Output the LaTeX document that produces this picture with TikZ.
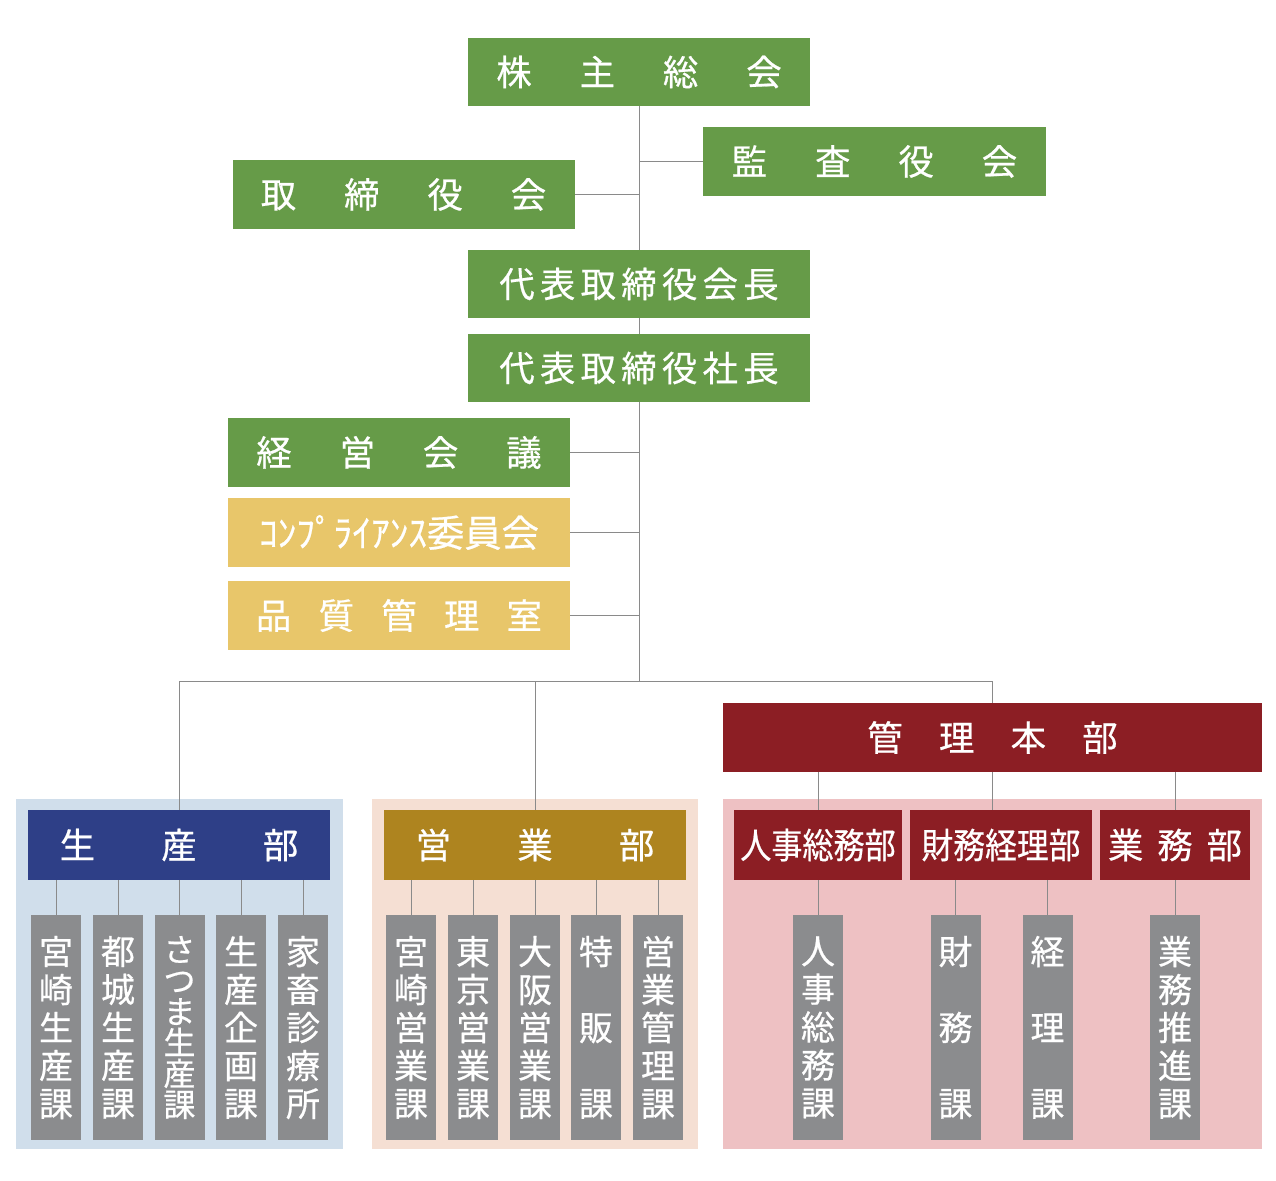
\documentclass[tikz,border=0pt]{standalone}
\usepackage{fontspec}
\newfontfamily\jp{Noto Sans CJK JP}[FakeBold=0.6]
\definecolor{cgreen}{HTML}{669B48}
\definecolor{cyellow}{HTML}{E8C66A}
\definecolor{cblue}{HTML}{2E3F87}
\definecolor{cpblue}{HTML}{D0DEEB}
\definecolor{cgold}{HTML}{AE841F}
\definecolor{cpbeige}{HTML}{F5DFD3}
\definecolor{cred}{HTML}{8C1E24}
\definecolor{cppink}{HTML}{EEC1C3}
\definecolor{cgray}{HTML}{8B8C8E}
\definecolor{cline}{HTML}{8A8A8A}
\begin{document}
\begin{tikzpicture}[x=0.75pt,y=-0.75pt,
  box/.style={inner sep=0pt,outer sep=0pt,text=white,font=\jp\fontsize{26.5}{30}\selectfont,anchor=center},
  topbox/.style={box,fill=cgreen,minimum width=256.5pt,minimum height=51.5pt},
  yelbox/.style={box,fill=cyellow,minimum width=256.5pt,minimum height=51.5pt},
  panel/.style={inner sep=0pt,outer sep=0pt,minimum height=262.5pt},
  dept/.style={box,minimum height=52.5pt},
  col/.style={box,fill=cgray,minimum width=37.5pt,minimum height=168.75pt,align=center,font=\jp\fontsize{25.5}{28.5}\selectfont},
  conn/.style={draw=cline,line width=0.75pt}]
\useasboundingbox (0,0) rectangle (1276,1180);
% panels
\node[panel,fill=cpblue,minimum width=245.25pt] (pA) at (179.5,974) {};
\node[panel,fill=cpbeige,minimum width=244.5pt] (pB) at (535,974) {};
\node[panel,fill=cppink,minimum width=404.25pt] (pC) at (992.5,974) {};
% top boxes
\node[topbox] (kabu) at (639,72) {株\hspace{36pt}主\hspace{36pt}総\hspace{36pt}会};
\node[topbox,minimum width=257.25pt] (kansa) at (874.5,161.5) {監\hspace{36pt}査\hspace{36pt}役\hspace{36pt}会};
\node[topbox] (tori) at (403.5,194.5) {取\hspace{36pt}締\hspace{36pt}役\hspace{36pt}会};
\node[topbox] (kaicho) at (639,284) {代\hspace{4pt}表\hspace{4pt}取\hspace{4pt}締\hspace{4pt}役\hspace{4pt}会\hspace{4pt}長};
\node[topbox] (shacho) at (639,368) {代\hspace{4pt}表\hspace{4pt}取\hspace{4pt}締\hspace{4pt}役\hspace{4pt}社\hspace{4pt}長};
\node[topbox] (keiei) at (399,452.5) {経\hspace{36pt}営\hspace{36pt}会\hspace{36pt}議};
\node[yelbox,font=\jp\fontsize{28}{30}\selectfont] (comp) at (399,532.5) {ｺﾝﾌﾟﾗｲｱﾝｽ委員会};
\node[yelbox] (hin) at (399,615.5) {品\hspace{20.5pt}質\hspace{20.5pt}管\hspace{20.5pt}理\hspace{20.5pt}室};
% departments
\node[dept,fill=cred,minimum width=404.25pt,minimum height=51.75pt] (kanri) at (992.5,737.5) {管\hspace{27.25pt}理\hspace{27.25pt}本\hspace{27.25pt}部};
\node[dept,fill=cblue,minimum width=226.5pt] (seisan) at (179,845) {生\hspace{49.75pt}産\hspace{49.75pt}部};
\node[dept,fill=cgold,minimum width=226.5pt] (eigyo) at (535,845) {営\hspace{49.75pt}業\hspace{49.75pt}部};
\node[dept,fill=cred,minimum width=126pt] (jinji) at (818,845) {\scalebox{0.88}[1]{人事総務部}};
\node[dept,fill=cred,minimum width=136.5pt] (zaimu) at (1001,845) {\scalebox{0.9}[1]{財務経理部}};
\node[dept,fill=cred,minimum width=112.5pt] (gyomu) at (1175,845) {業\hspace{10.5pt}務\hspace{10.5pt}部};
% columns
\node[col] (a1) at (56,1027.5) {宮\\崎\\生\\産\\課};
\node[col] (a2) at (118,1027.5) {都\\城\\生\\産\\課};
\node[col,font=\jp\fontsize{24}{23.25}\selectfont] (a3) at (179.5,1027.5) {さ\\つ\\ま\\生\\産\\課};
\node[col] (a4) at (241,1027.5) {生\\産\\企\\画\\課};
\node[col] (a5) at (303,1027.5) {家\\畜\\診\\療\\所};
\node[col] (b1) at (411,1027.5) {宮\\崎\\営\\業\\課};
\node[col] (b2) at (473,1027.5) {東\\京\\営\\業\\課};
\node[col] (b3) at (535,1027.5) {大\\阪\\営\\業\\課};
\node[col] (b4) at (596,1027.5) {特\\[28.5pt]販\\[28.5pt]課};
\node[col] (b5) at (658,1027.5) {営\\業\\管\\理\\課};
\node[col] (c1) at (818,1027.5) {人\\事\\総\\務\\課};
\node[col] (c2) at (955.5,1027.5) {財\\[28.5pt]務\\[28.5pt]課};
\node[col] (c3) at (1047.5,1027.5) {経\\[28.5pt]理\\[28.5pt]課};
\node[col] (c4) at (1175,1027.5) {業\\務\\推\\進\\課};
% connectors
\coordinate (j) at (639,681);
\draw[conn] (kabu.south) -- (kaicho.north);
\draw[conn] (kaicho.south) -- (shacho.north);
\draw[conn] (shacho.south) -- (j);
\draw[conn] (kansa.west) -- (kansa.west -| kabu.south);
\draw[conn] (tori.east) -- (tori.east -| kabu.south);
\draw[conn] (keiei.east) -- (keiei.east -| j);
\draw[conn] (comp.east) -- (comp.east -| j);
\draw[conn] (hin.east) -- (hin.east -| j);
\draw[conn] (seisan.north |- j) -- (kanri.north |- j);
\draw[conn] (seisan.north |- j) -- (seisan.north);
\draw[conn] (eigyo.north |- j) -- (eigyo.north);
\draw[conn] (kanri.north |- j) -- (kanri.north);
\draw[conn] (kanri.south -| jinji.north) -- (jinji.north);
\draw[conn] (kanri.south) -- (kanri.south |- zaimu.north);
\draw[conn] (kanri.south -| gyomu.north) -- (gyomu.north);
\foreach \c in {a1,a2,a3,a4,a5} \draw[conn] (seisan.south -| \c.north) -- (\c.north);
\foreach \c in {b1,b2,b3,b4,b5} \draw[conn] (eigyo.south -| \c.north) -- (\c.north);
\draw[conn] (jinji.south -| c1.north) -- (c1.north);
\draw[conn] (zaimu.south -| c2.north) -- (c2.north);
\draw[conn] (zaimu.south -| c3.north) -- (c3.north);
\draw[conn] (gyomu.south -| c4.north) -- (c4.north);
\end{tikzpicture}
\end{document}
